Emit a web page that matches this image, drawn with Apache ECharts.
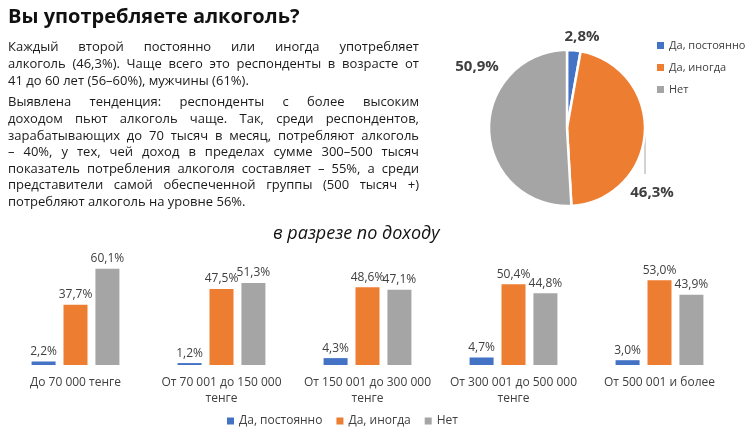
<!DOCTYPE html>
<html>
<head>
<meta charset="utf-8">
<script src="https://cdn.jsdelivr.net/npm/echarts@6/dist/echarts.min.js"></script>
<style>
  html, body { margin: 0; padding: 0; background: #fff; }
  #wrap { position: relative; width: 750px; height: 430px; }
  #chart { position: absolute; left: 0; top: 0; width: 750px; height: 430px; }
  #text { position: absolute; left: 8px; top: 38.4px; width: 411px;
          font-family: "Open Sans", sans-serif; font-size: 13px; line-height: 16.6px; color: #1a1a1a; }
  #text .l { white-space: nowrap; text-align: justify; text-align-last: justify; }
  #text .e { white-space: nowrap; text-align: left; }
  #text .p2 { margin-top: 5.2px; }
</style>
</head>
<body>
<div id="wrap">
  <div id="chart"></div>
  <div id="text">
    <div class="p1">
      <div class="l">Каждый второй постоянно или иногда употребляет</div>
      <div class="l">алкоголь (46,3%). Чаще всего это респонденты в возрасте от</div>
      <div class="e">41 до 60 лет (56–60%), мужчины (61%).</div>
    </div>
    <div class="p2">
      <div class="l">Выявлена тенденция: респонденты с более высоким</div>
      <div class="l">доходом пьют алкоголь чаще. Так, среди респондентов,</div>
      <div class="l">зарабатывающих до 70 тысяч в месяц, потребляют алкоголь</div>
      <div class="l">– 40%, у тех, чей доход в пределах сумме 300–500 тысяч</div>
      <div class="l">показатель потребления алкоголя составляет – 55%, а среди</div>
      <div class="l">представители самой обеспеченной группы (500 тысяч +)</div>
      <div class="e">потребляют алкоголь на уровне 56%.</div>
    </div>
  </div>
</div>
<script>
// ---- data ----
const seriesNames = ['Да, постоянно', 'Да, иногда', 'Нет'];
const colors = ['#4472C4', '#ED7D31', '#A5A5A5'];
const pieValues = [2.8, 46.3, 50.9];
const incomeCategories = ['До 70 000 тенге', 'От 70 001 до 150 000 тенге', 'От 150 001 до 300 000 тенге', 'От 300 001 до 500 000 тенге', 'От 500 001 и более'];
const constantly = [2.2, 1.2, 4.3, 4.7, 3.0];
const sometimes = [37.7, 47.5, 48.6, 50.4, 53.0];
const never = [60.1, 51.3, 47.1, 44.8, 43.9];

const barData = [constantly, sometimes, never];
const FONT = '"Open Sans", sans-serif';
const fmt = v => String(v.toFixed(1)).replace('.', ',') + '%';
// wrap long income labels before the trailing currency word, as in the reference
const wrapLabel = v => (v.length > 16 ? v.replace(/ (тенге)$/, '\n$1') : v);

const chart = echarts.init(document.getElementById('chart'), null, { renderer: 'canvas' });

const pieLabelPos = [[582, 37], [652, 193], [477, 67]];

const option = {
  animation: false,
  textStyle: { fontFamily: FONT },
  title: [
    { text: 'Вы употребляете алкоголь?', left: 3, top: 2,
      textStyle: { fontFamily: FONT, fontSize: 20, fontWeight: 'bold', color: '#111' } },
    { text: 'в разрезе по доходу', left: 268, top: 220,
      textStyle: { fontFamily: FONT, fontSize: 18, fontStyle: 'italic', fontWeight: 'normal', color: '#111' } }
  ],
  legend: [
    { data: seriesNames, orient: 'vertical', left: 652, top: 35, itemWidth: 7, itemHeight: 7, itemGap: 11,
      icon: 'rect', textStyle: { fontFamily: FONT, fontSize: 11, color: '#404040' } },
    { data: seriesNames, orient: 'horizontal', left: 222, top: 410, itemWidth: 7, itemHeight: 7, itemGap: 14,
      icon: 'rect', textStyle: { fontFamily: FONT, fontSize: 12, color: '#404040' } }
  ],
  grid: { left: 2.5, right: 17.5, top: 253, bottom: 65, containLabel: false },
  xAxis: {
    type: 'category', data: incomeCategories,
    axisLine: { show: false }, axisTick: { show: false },
    axisLabel: { fontFamily: FONT, fontSize: 12, color: '#404040', margin: 10, lineHeight: 16,
                 interval: 0, formatter: wrapLabel }
  },
  yAxis: { type: 'value', min: 0, max: 70, show: false, splitLine: { show: false } },
  series: [
    ...seriesNames.map((name, i) => ({
      type: 'bar', name: name, data: barData[i],
      barWidth: 24, barGap: '33%',
      itemStyle: { color: colors[i] },
      label: { show: true, position: 'top', distance: 4, fontFamily: FONT, fontSize: 12, color: '#404040',
               formatter: p => fmt(p.value) }
    })),
    {
      type: 'pie', name: 'pie', center: [567, 128], radius: 78, startAngle: 90, clockwise: true,
      data: seriesNames.map((name, i) => ({
        name: name, value: pieValues[i], itemStyle: { color: colors[i] },
        labelLine: { show: i === 1 }
      })),
      itemStyle: { borderColor: '#fff', borderWidth: 2.5 },
      label: { show: true, position: 'outside', fontFamily: FONT, fontSize: 15, fontWeight: 'bold', color: '#404040',
               formatter: p => fmt(p.value) },
      labelLine: { lineStyle: { color: '#A6A6A6', width: 1 } },
      labelLayout: function (p) {
        const pos = pieLabelPos[p.dataIndex];
        const r = { x: pos[0], y: pos[1], align: 'center', verticalAlign: 'middle' };
        if (p.dataIndex === 1) r.labelLinePoints = [[645, 133], [645, 174], [645, 174]];
        return r;
      }
    }
  ]
};
chart.setOption(option);
</script>
</body>
</html>
